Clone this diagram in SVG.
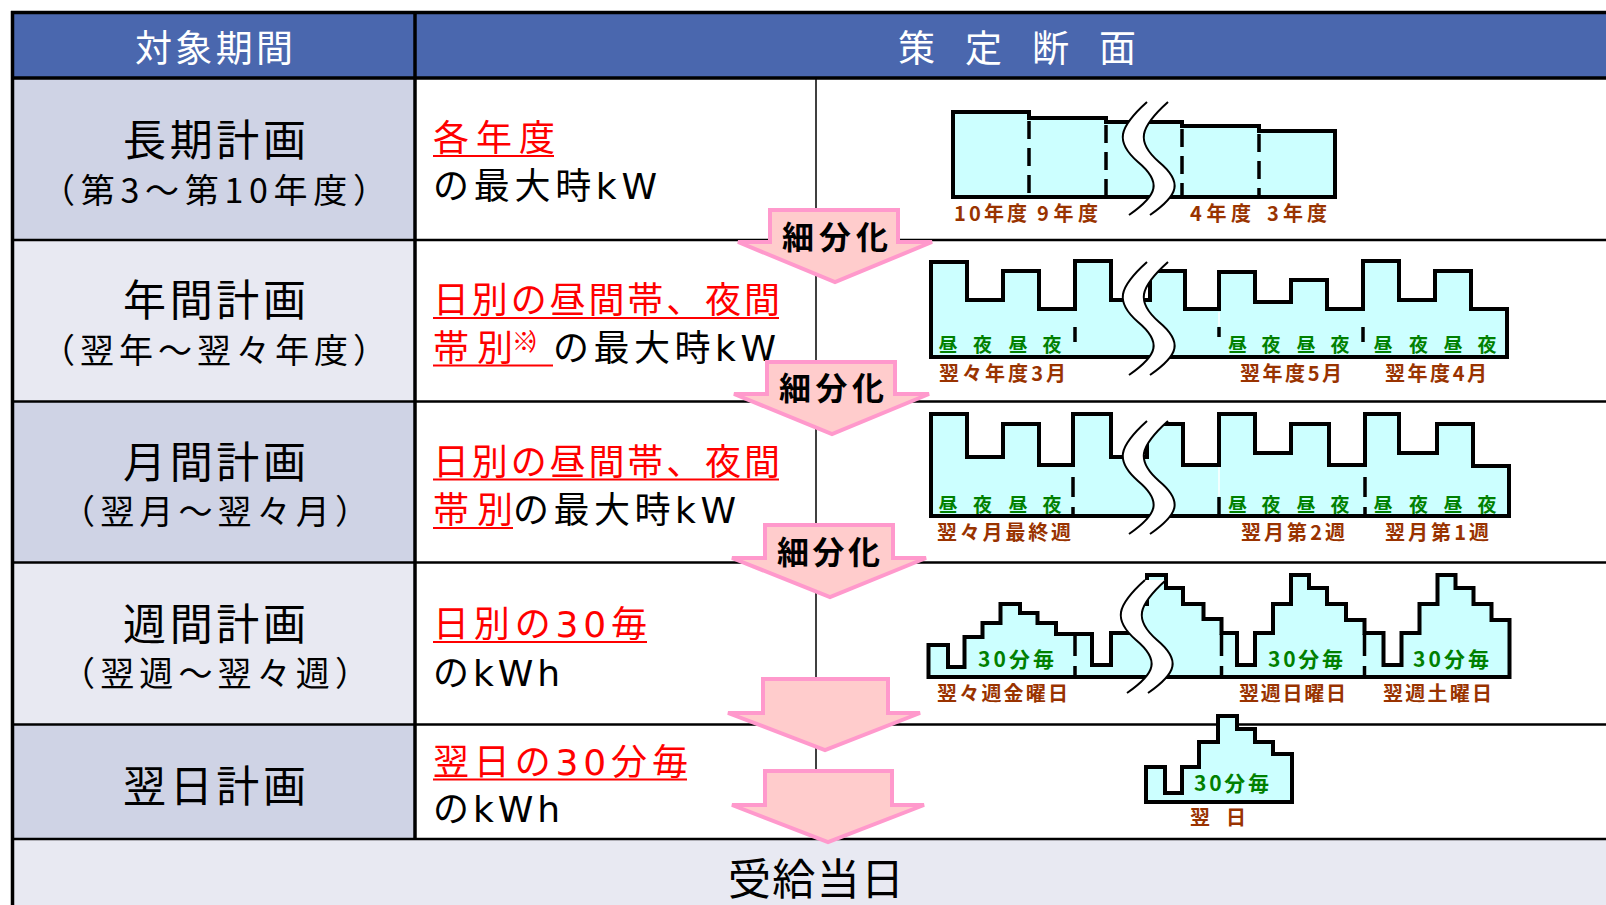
<svg xmlns="http://www.w3.org/2000/svg" width="1606" height="905" viewBox="0 0 1606 905">
<style>
text{font-family:"Noto Sans CJK JP","Noto Sans",sans-serif}
.hdr{fill:#fff;font-size:37px}
.big{font-size:43px;fill:#000}
.sub{font-size:34px;fill:#000}
.mid{font-size:36px;fill:#000;font-family:"DejaVu Sans","Noto Sans CJK JP",sans-serif}
.red{fill:#f00}
.ul{stroke:#f00;stroke-width:2.2}
.grid{stroke:#000;fill:none}
.chart{fill:#ccffff;stroke:#000;stroke-width:4;stroke-linejoin:miter}
.dash{stroke:#000;stroke-width:3.5;fill:none}
.day{fill:#008000;font-weight:bold;font-size:19px}
.brn{fill:#993300;font-weight:bold;font-size:20px}
.grn{fill:#008000;font-weight:bold;font-size:21px}
.arrow{fill:#ffcccc;stroke:#ff99cc;stroke-width:4;stroke-linejoin:miter}
.atx{font-weight:bold;font-size:32px;fill:#000}
.brkf{fill:#fff;stroke:none}
.brks{fill:none;stroke:#000;stroke-width:2}
</style>
<defs>
<g id="brk">
<path class="brkf" d="M1147,102 C1118,128 1115,142 1138,162 C1162,182 1158,195 1129,215 L1150,215 C1179,195 1183,182 1159,162 C1136,142 1139,128 1168,102 Z"/>
<path class="brks" d="M1147,102 C1118,128 1115,142 1138,162 C1162,182 1158,195 1129,215"/>
<path class="brks" d="M1168,102 C1139,128 1136,142 1159,162 C1183,182 1179,195 1150,215"/>
</g>
</defs>
<rect width="1606" height="905" fill="#fff"/>

<g id="table">
<rect x="12.5" y="12.5" width="1594" height="65.5" fill="#4a67ae"/>
<rect x="12.5" y="78" width="402.5" height="162" fill="#cfd3e5"/>
<rect x="12.5" y="240" width="402.5" height="161.5" fill="#e8e9f2"/>
<rect x="12.5" y="401.5" width="402.5" height="161" fill="#cfd3e5"/>
<rect x="12.5" y="562.5" width="402.5" height="162" fill="#e8e9f2"/>
<rect x="12.5" y="724.5" width="402.5" height="114.5" fill="#cfd3e5"/>
<rect x="12.5" y="839" width="1594" height="66" fill="#e8e9f2"/>
<line class="grid" x1="816" y1="78" x2="816" y2="839" stroke-width="1.5"/>
<line class="grid" x1="12.5" y1="240" x2="1606" y2="240" stroke-width="2.5"/>
<line class="grid" x1="12.5" y1="401.5" x2="1606" y2="401.5" stroke-width="2.5"/>
<line class="grid" x1="12.5" y1="562.5" x2="1606" y2="562.5" stroke-width="2.5"/>
<line class="grid" x1="12.5" y1="724.5" x2="1606" y2="724.5" stroke-width="2.5"/>
<line class="grid" x1="12.5" y1="839" x2="1606" y2="839" stroke-width="2.5"/>
<line class="grid" x1="11" y1="12.5" x2="1606" y2="12.5" stroke-width="3.5"/>
<line class="grid" x1="11" y1="78" x2="1606" y2="78" stroke-width="3.5"/>
<line class="grid" x1="12.5" y1="11" x2="12.5" y2="905" stroke-width="3.5"/>
<line class="grid" x1="415" y1="11" x2="415" y2="839" stroke-width="3.5"/>
</g>

<g id="header">
<text class="hdr" x="135" y="62" textLength="158">対象期間</text>
<text class="hdr" x="898" y="62" textLength="238">策 定 断 面</text>
</g>

<g id="row-long">
<text class="big" x="123" y="156" textLength="183">長期計画</text>
<text class="sub" x="41" y="202.5" textLength="346">（第3～第10年度）</text>
<text class="mid red" x="433" y="151" textLength="122">各年度</text>
<line class="ul" x1="433" y1="156" x2="554" y2="156"/>
<text class="mid" x="433" y="199" textLength="224">の最大時kW</text>
</g>

<g id="row-annual">
<text class="big" x="123" y="316" textLength="183">年間計画</text>
<text class="sub" x="41" y="363" textLength="346">（翌年～翌々年度）</text>
<text class="mid red" x="433" y="313" textLength="347">日別の昼間帯、夜間</text>
<line class="ul" x1="433" y1="318" x2="779" y2="318"/>
<text class="mid red" x="433" y="361" textLength="80">帯別</text>
<text class="red" x="512" y="350" font-size="24" textLength="40">※）</text>
<line class="ul" x1="433" y1="365.5" x2="553" y2="365.5"/>
<text class="mid" x="553" y="361" textLength="223">の最大時kW</text>
</g>

<g id="row-monthly">
<text class="big" x="123" y="478" textLength="183">月間計画</text>
<text class="sub" x="61" y="524" textLength="308">（翌月～翌々月）</text>
<text class="mid red" x="433" y="475" textLength="347">日別の昼間帯、夜間</text>
<line class="ul" x1="433" y1="479.5" x2="779" y2="479.5"/>
<text class="mid red" x="433" y="523" textLength="80">帯別</text>
<line class="ul" x1="433" y1="528" x2="513" y2="528"/>
<text class="mid" x="513" y="523" textLength="223">の最大時kW</text>
</g>

<g id="row-weekly">
<text class="big" x="123" y="640" textLength="183">週間計画</text>
<text class="sub" x="61" y="686" textLength="308">（翌週～翌々週）</text>
<text class="mid red" x="433" y="637" textLength="214">日別の30毎</text>
<line class="ul" x1="433" y1="642" x2="647" y2="642"/>
<text class="mid" x="433" y="686" textLength="127">のkWh</text>
</g>

<g id="row-daily">
<text class="big" x="123" y="802" textLength="183">翌日計画</text>
<text class="mid red" x="433" y="775" textLength="255">翌日の30分毎</text>
<line class="ul" x1="433" y1="779.5" x2="687" y2="779.5"/>
<text class="mid" x="433" y="822" textLength="127">のkWh</text>
</g>

<g id="footer">
<text class="big" x="728" y="895" textLength="176">受給当日</text>
</g>

<g id="chart-long">
<path class="chart" d="M953,197 V112 H1029 V118 H1106 V122 H1182 V126 H1259 V131 H1335 V197 Z"/>
<g class="dash" stroke-dasharray="18 9">
<line x1="1029" y1="121" x2="1029" y2="195"/>
<line x1="1106" y1="125" x2="1106" y2="195"/>
<line x1="1182" y1="129" x2="1182" y2="195"/>
<line x1="1259" y1="134" x2="1259" y2="195"/>
</g>
<use href="#brk"/>
<text class="brn" x="954" y="221" textLength="73">10年度</text>
<text class="brn" x="1037" y="221" textLength="61">9年度</text>
<text class="brn" x="1190" y="221" textLength="61">4年度</text>
<text class="brn" x="1267" y="221" textLength="60">3年度</text>
</g>

<g id="chart-annual">
<path class="chart" d="M931,357 V262 H967 V300 H1003 V271 H1039 V309 H1075 V261 H1111 V300 H1150 V271 H1185 V309 H1219 V272 H1255 V302 H1291 V280 H1327 V309 H1363 V261 H1399 V300 H1435 V271 H1471 V309 H1507 V357 Z"/>
<line x1="1219" y1="312" x2="1219" y2="326" stroke="#fff" stroke-width="1.5"/>
<g class="dash">
<line x1="1075" y1="327" x2="1075" y2="342"/>
<line x1="1219" y1="327" x2="1219" y2="337"/>
<line x1="1363" y1="327" x2="1363" y2="342"/>
</g>
<use href="#brk" transform="translate(0,160)"/>
<text class="day" y="352" text-anchor="middle" x="948 982.5 1018 1052 1237.5 1271 1306 1340 1383 1418.5 1453 1487">昼夜昼夜昼夜昼夜昼夜昼夜</text>
<text class="brn" x="939" y="381" textLength="127">翌々年度3月</text>
<text class="brn" x="1240" y="381" textLength="102">翌年度5月</text>
<text class="brn" x="1385" y="381" textLength="102">翌年度4月</text>
</g>

<g id="chart-monthly">
<path class="chart" d="M931,516 V414 H967 V457 H1003 V424 H1039 V465 H1073 V414 H1111 V457 H1147 V424 H1183 V465 H1219 V414 H1255 V453 H1291 V424 H1329 V465 H1365 V414 H1399 V453 H1437 V424 H1473 V466 H1509 V516 Z"/>
<line x1="1219" y1="467" x2="1219" y2="496" stroke="#fff" stroke-width="1.5"/>
<g class="dash" stroke-dasharray="20 10">
<line x1="1073" y1="477" x2="1073" y2="516"/>
<line x1="1219" y1="497" x2="1219" y2="516"/>
<line x1="1365" y1="477" x2="1365" y2="516"/>
</g>
<use href="#brk" transform="translate(0,319)"/>
<text class="day" y="512" text-anchor="middle" x="948 982.5 1018 1052 1237.5 1271 1306 1340 1383 1418.5 1453 1487">昼夜昼夜昼夜昼夜昼夜昼夜</text>
<text class="brn" x="937" y="540" textLength="134">翌々月最終週</text>
<text class="brn" x="1241" y="540" textLength="104">翌月第2週</text>
<text class="brn" x="1385" y="540" textLength="104">翌月第1週</text>
</g>

<g id="chart-weekly">
<path class="chart" d="M928.5,677 V645 H948 V667 H964.5 V637 H982.5 V623 H1000.5 V604 H1020 V613 H1037.5 V623 H1056 V634 H1092 V665 H1111 V633 H1129 V604 H1147 V575 H1166 V588 H1183 V604 H1203.5 V619 H1221.5 V633 H1237 V665 H1255 V633 H1273 V604 H1291 V575 H1309 V588 H1327 V604 H1346 V620 H1364.5 V633 H1383.5 V665 H1401.5 V633 H1419.5 V604 H1437.5 V575 H1455.5 V588 H1473.5 V604 H1491.5 V620 H1509.5 V677 Z"/>
<g class="dash" stroke-dasharray="22 10">
<line x1="1075" y1="634" x2="1075" y2="677"/>
<line x1="1221.5" y1="634" x2="1221.5" y2="677"/>
<line x1="1364.5" y1="634" x2="1364.5" y2="677"/>
</g>
<use href="#brk" transform="translate(-2,478)"/>
<text class="grn" x="978" y="667" textLength="76">30分毎</text>
<text class="grn" x="1268" y="667" textLength="75">30分毎</text>
<text class="grn" x="1413" y="667" textLength="76">30分毎</text>
<text class="brn" x="937" y="701" textLength="131">翌々週金曜日</text>
<text class="brn" x="1239" y="701" textLength="107">翌週日曜日</text>
<text class="brn" x="1383" y="701" textLength="109">翌週土曜日</text>
</g>

<g id="chart-daily">
<path class="chart" d="M1146,802 V767 H1165 V793 H1182 V767 H1199 V742 H1218 V716 H1237 V729 H1255 V742 H1273 V754 H1292 V802 Z"/>
<text class="grn" x="1194" y="791" textLength="75">30分毎</text>
<text class="brn" x="1190" y="825" textLength="56">翌　日</text>
</g>

<g id="connectors">
<polygon class="arrow" points="770,210 898,210 898,242 932,242 835,282 738,242 770,242"/>
<text class="atx" x="782" y="249" textLength="106">細分化</text>
<polygon class="arrow" points="767,362 895,362 895,394 929,394 832,434 734,394 767,394"/>
<text class="atx" x="779" y="400" textLength="105">細分化</text>
<polygon class="arrow" points="765,525 893,525 893,558 926,558 830,597 732,558 765,558"/>
<text class="atx" x="777" y="564" textLength="103">細分化</text>
<polygon class="arrow" points="763,679 888,679 888,713 920,713 825,750 728,713 763,713"/>
<polygon class="arrow" points="765,771 892,771 892,805 924,805 828,842 732,805 765,805"/>
</g>
</svg>
